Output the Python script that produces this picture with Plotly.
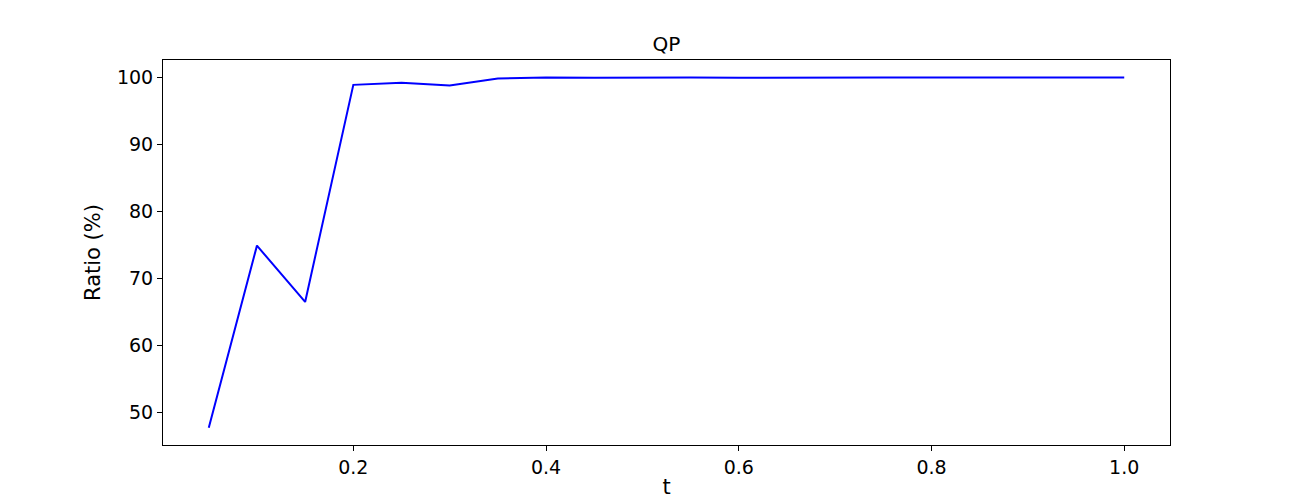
import plotly.graph_objects as go

t = [0.05, 0.10, 0.15, 0.20, 0.25, 0.30, 0.35, 0.40, 0.45, 0.50,
     0.55, 0.60, 0.65, 0.70, 0.75, 0.80, 0.85, 0.90, 0.95, 1.00]
ratio = [47.7, 74.9, 66.5, 98.9, 99.2, 98.8, 99.85, 100.0, 99.95, 100.0,
         100.0, 99.95, 100.0, 100.0, 100.0, 100.0, 100.0, 100.0, 100.0, 100.0]

font = 'DejaVu Sans'

# page body has an 8px default margin, so the figure is a bit smaller and shifted
W, H = 1292, 492

fig = go.Figure(data=[go.Scatter(x=t, y=ratio, mode='lines',
                                 line=dict(color='#0000ff', width=2))])

fig.update_layout(
    width=W, height=H,
    paper_bgcolor='white', plot_bgcolor='white',
    margin=dict(l=155, r=130, t=52, b=55, autoexpand=False),
    showlegend=False,
    font=dict(family=font, color='black', size=19),
    title=dict(text='QP', x=0.5, xref='paper', y=1 - 36 / H, yanchor='middle',
               automargin=False,
               font=dict(family=font, size=20, color='black')),
)

fig.update_xaxes(
    range=[0.0025, 1.0475], tick0=0, dtick=0.2, tickformat='.1f',
    showgrid=False, zeroline=False, automargin=False,
    showline=True, linecolor='black', linewidth=1, mirror=True,
    ticks='outside', ticklen=5, tickcolor='black',
    tickfont=dict(size=19),
    title=dict(text='t', font=dict(size=21), standoff=2),
)
fig.update_yaxes(
    range=[45.14, 102.61], dtick=10,
    showgrid=False, zeroline=False, automargin=False,
    showline=True, linecolor='black', linewidth=1, mirror=True,
    ticks='outside', ticklen=5, tickcolor='black',
    tickfont=dict(size=19),
    title=dict(text='Ratio (%)', font=dict(size=21), standoff=10),
)

fig.write_html("out.html")
